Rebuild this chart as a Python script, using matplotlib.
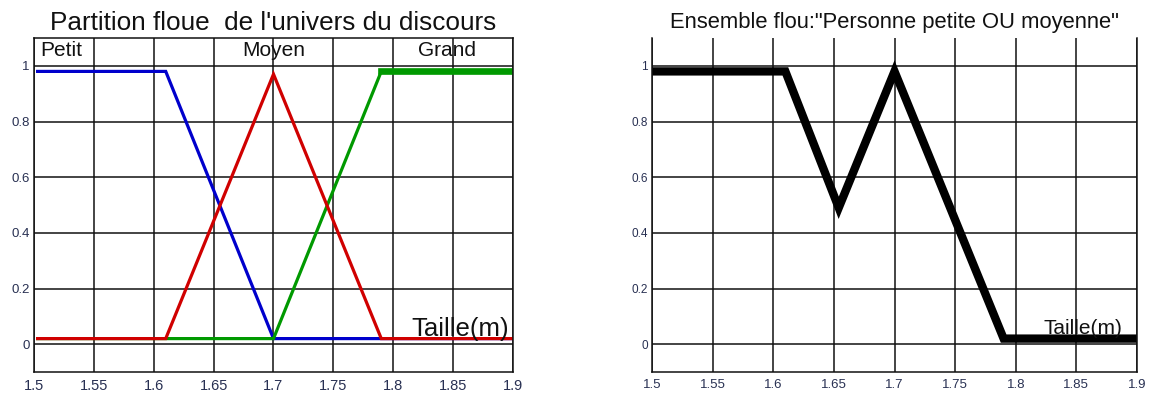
import matplotlib
matplotlib.use("Agg")
import matplotlib.pyplot as plt
import numpy as np

plt.rcParams['font.family'] = ['Liberation Sans', 'DejaVu Sans']

# Univers du discours : taille en mètres
x_ticks = [1.5, 1.55, 1.6, 1.65, 1.7, 1.75, 1.8, 1.85, 1.9]
x_tick_labels = ["1.5", "1.55", "1.6", "1.65", "1.7", "1.75", "1.8", "1.85", "1.9"]
y_ticks = [0, 0.2, 0.4, 0.6, 0.8, 1]
y_tick_labels = ["0", "0.2", "0.4", "0.6", "0.8", "1"]

# Fonctions d'appartenance des trois sous-ensembles flous
petit_x = [1.503, 1.61, 1.70, 1.9]
petit_y = [0.98, 0.98, 0.02, 0.02]
moyen_x = [1.503, 1.61, 1.70, 1.79, 1.9]
moyen_y = [0.02, 0.02, 0.97, 0.02, 0.02]
grand_x = [1.503, 1.61, 1.70, 1.79, 1.9]
grand_y = [0.02, 0.02, 0.02, 0.98, 0.98]

# Union "petite OU moyenne" (max des deux fonctions)
union_x = [1.503, 1.61, 1.654, 1.70, 1.79, 1.898]
union_y = [0.98, 0.98, 0.49, 0.98, 0.02, 0.02]

set_names = ["Petit", "Moyen", "Grand"]
set_label_x = [1.505, 1.70, 1.845]

tick_color = '#283052'
W, H = 1154, 396
fig = plt.figure(figsize=(W / 100, H / 100), dpi=100)

ax1 = fig.add_axes([34 / W, 1 - 372 / H, (513 - 34) / W, (372 - 38) / H])
ax2 = fig.add_axes([652 / W, 1 - 372 / H, (1137 - 652) / W, (372 - 38) / H])


def style_axes(ax, ysize, xsize):
    ax.set_xlim(1.5, 1.9)
    ax.set_ylim(-0.1, 1.1)
    ax.set_xticks(x_ticks)
    ax.set_xticklabels(x_tick_labels)
    ax.set_yticks(y_ticks)
    ax.set_yticklabels(y_tick_labels)
    ax.tick_params(axis='both', length=0, colors=tick_color)
    ax.tick_params(axis='x', labelsize=xsize, pad=5)
    ax.tick_params(axis='y', labelsize=ysize, pad=3)
    ax.grid(True, color='#111111', linewidth=1.1)
    ax.set_axisbelow(True)
    for s in ax.spines.values():
        s.set_color('#111111')
        s.set_linewidth(1.1)


style_axes(ax1, 9.5, 10.5)
style_axes(ax2, 8.5, 9.5)
ax2.spines['top'].set_visible(False)

# Partition floue
ax1.plot(petit_x, petit_y, color='#0000cc', linewidth=2.3, solid_joinstyle='miter')
ax1.plot(grand_x, grand_y, color='#009900', linewidth=2.3, solid_joinstyle='miter')
ax1.plot(grand_x[-2:], grand_y[-2:], color='#009900', linewidth=4.8)
ax1.plot(moyen_x, moyen_y, color='#d00000', linewidth=2.3, solid_joinstyle='miter')

for name, xpos in zip(set_names, set_label_x):
    ha = 'left' if name == "Petit" else 'center'
    ax1.text(xpos, 1.055, name, fontsize=15, ha=ha, va='center', color='#111111')

ax1.text(1.815, 0.03, "Taille(m)", fontsize=18.5, ha='left', va='baseline', color='#111111')
ax1.set_title("Partition floue  de l'univers du discours", fontsize=18.8, pad=6, color='#111111')

# Ensemble flou résultant
ax2.plot(union_x, union_y, color='black', linewidth=6, solid_joinstyle='miter')
ax2.text(1.8225, 0.036, "Taille(m)", fontsize=15, ha='left', va='baseline', color='#111111')
ax2.set_title('Ensemble flou:"Personne petite OU moyenne"', fontsize=15.8, pad=7, color='#111111')

fig.savefig("out.png", dpi=100)
